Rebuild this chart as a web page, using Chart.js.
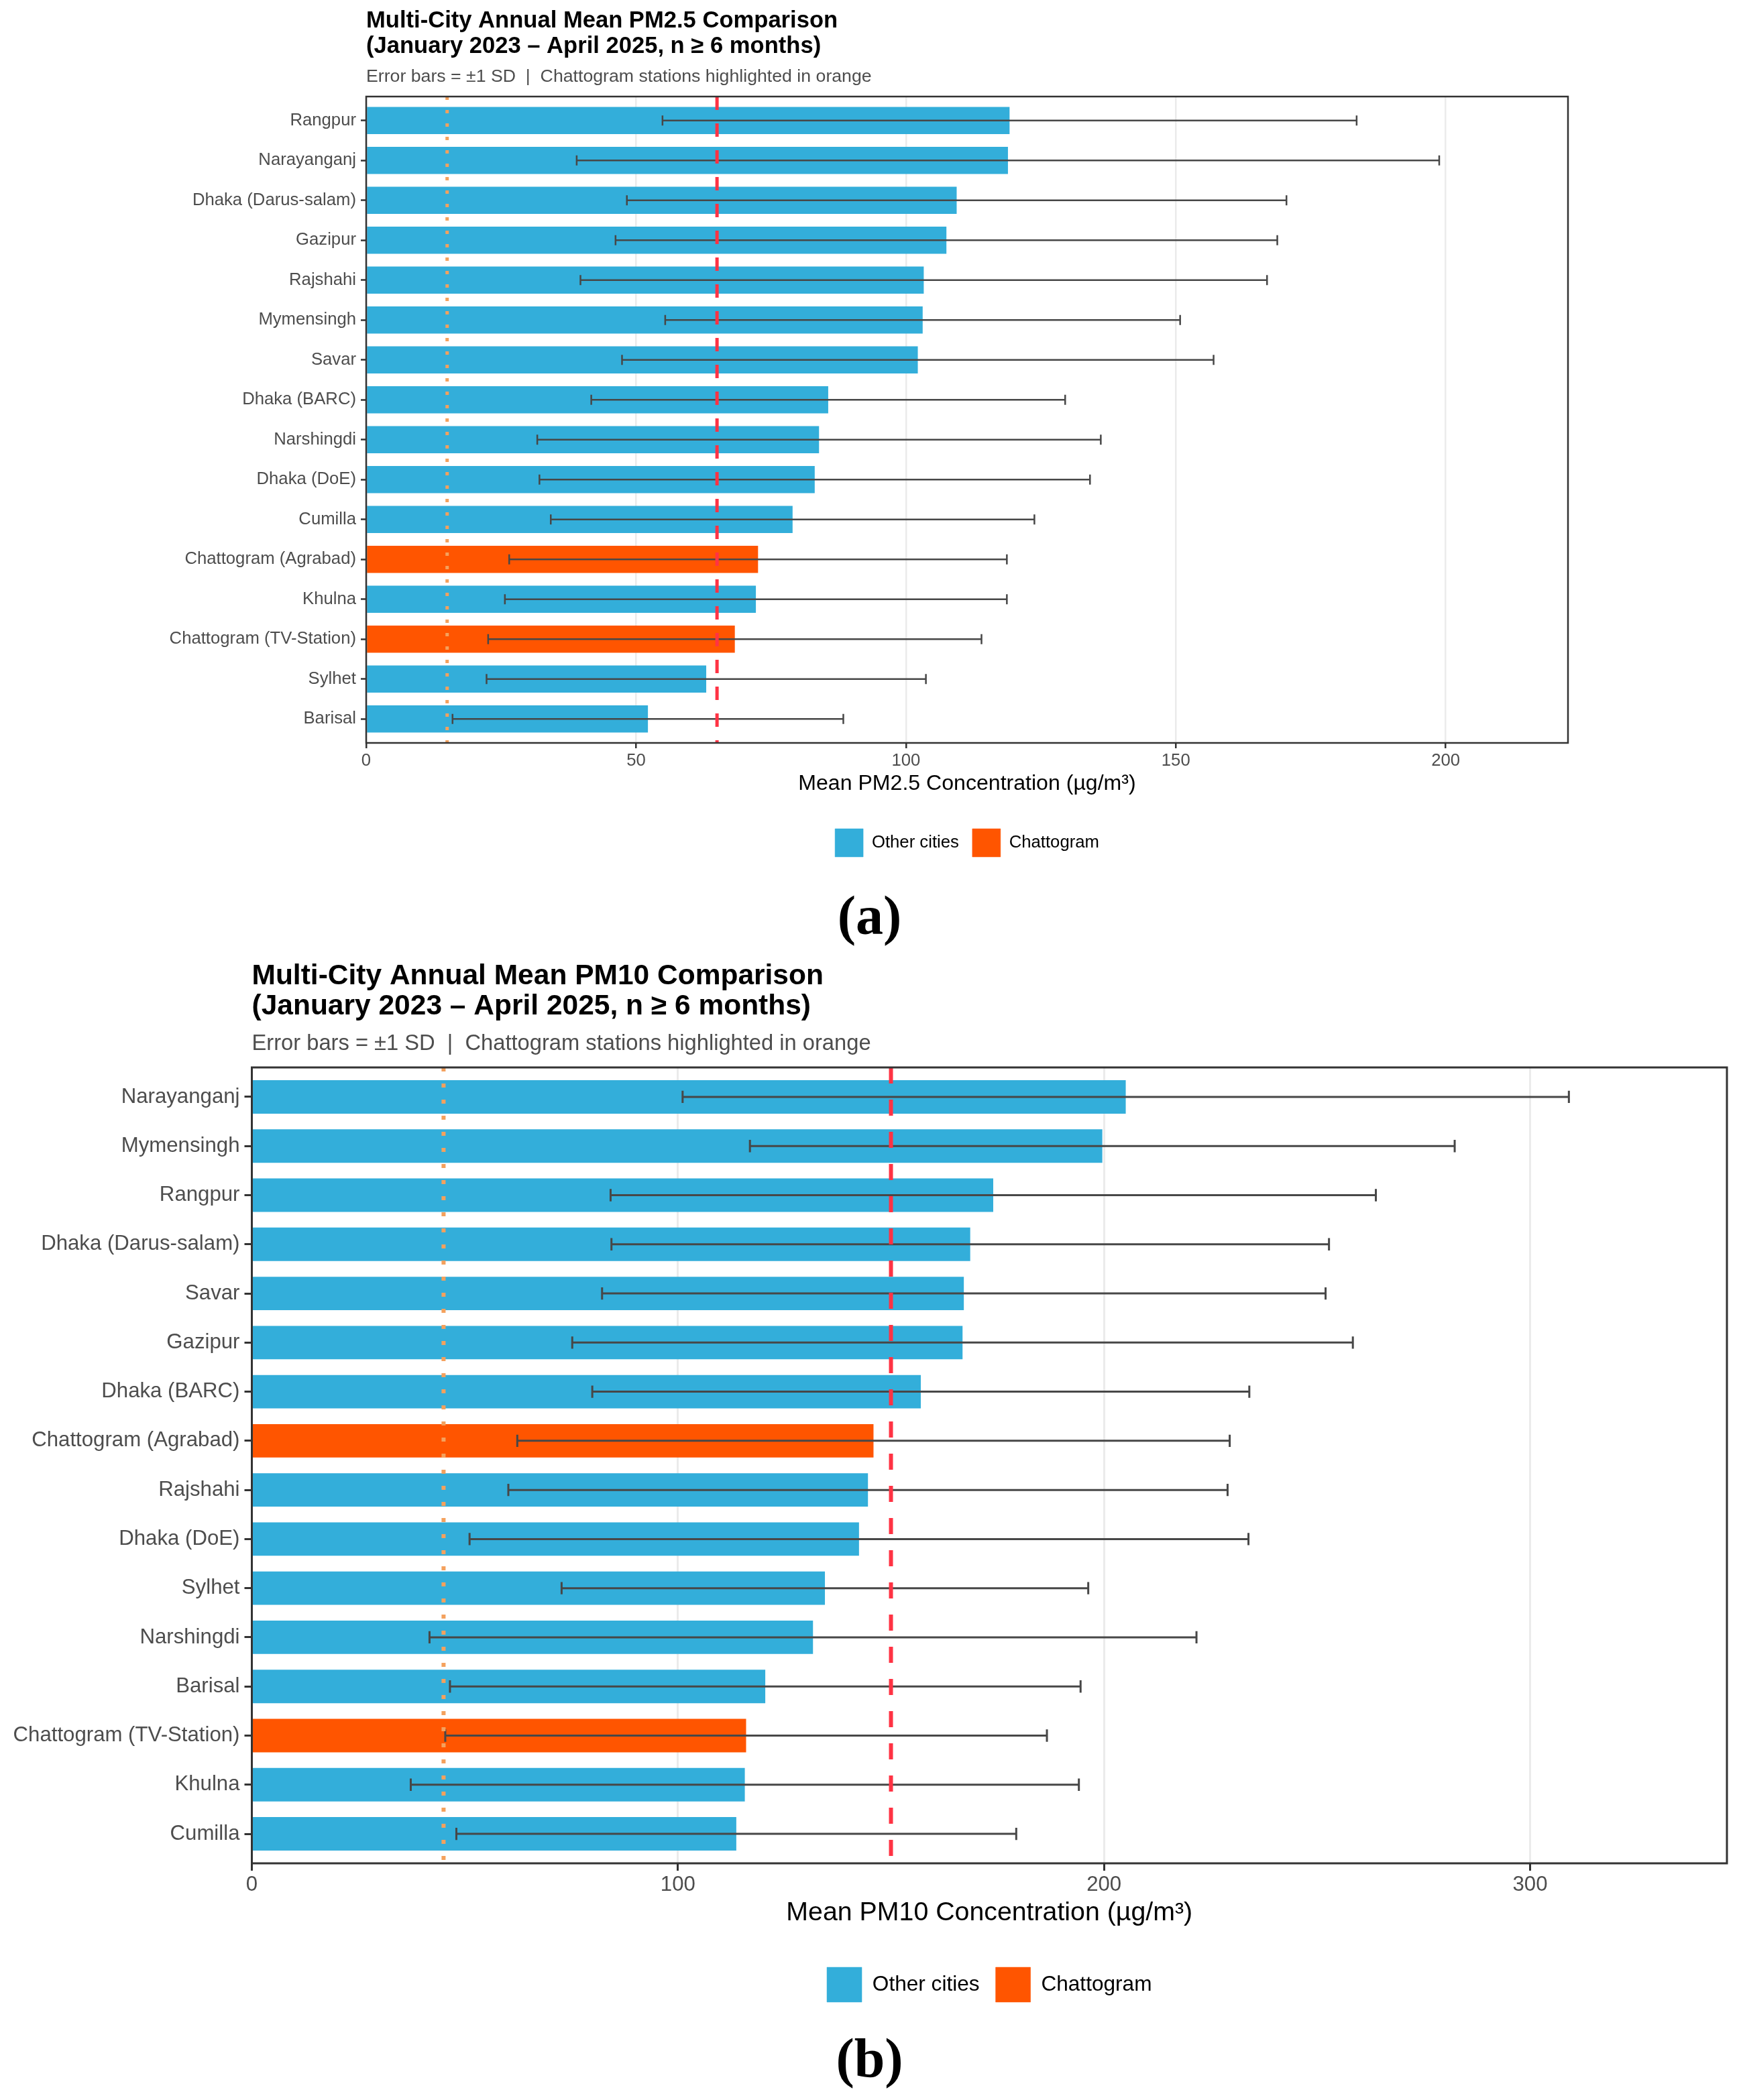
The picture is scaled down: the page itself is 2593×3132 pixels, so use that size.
<!DOCTYPE html>
<html>
<head>
<meta charset="utf-8">
<title>Multi-City Annual Mean PM Comparison</title>
<script src="https://cdn.jsdelivr.net/npm/chart.js@4.4.1/dist/chart.umd.min.js"></script>
<style>
  html, body { margin: 0; padding: 0; background: #fff; }
  .panel { position: absolute; left: 0; width: 2593px; }
  #wrapA { top: 0; height: 1430px; }
  #wrapB { top: 1430px; height: 1702px; }
</style>
</head>
<body>
<div id="wrapA" class="panel"><canvas id="chartA"></canvas></div>
<div id="wrapB" class="panel"><canvas id="chartB"></canvas></div>
<script>
// ---- data ----
const pm25Cities = ['Rangpur', 'Narayanganj', 'Dhaka (Darus-salam)', 'Gazipur', 'Rajshahi', 'Mymensingh',
  'Savar', 'Dhaka (BARC)', 'Narshingdi', 'Dhaka (DoE)', 'Cumilla', 'Chattogram (Agrabad)', 'Khulna',
  'Chattogram (TV-Station)', 'Sylhet', 'Barisal'];
const pm25Mean = [119.2, 118.9, 109.4, 107.5, 103.3, 103.1, 102.2, 85.6, 83.9, 83.1, 79.0, 72.6, 72.2, 68.3, 63.0, 52.2];
const pm25Sd = [64.3, 79.9, 61.1, 61.3, 63.6, 47.7, 54.8, 43.9, 52.2, 51.0, 44.8, 46.1, 46.5, 45.7, 40.7, 36.2];
const pm25RefLines = [15, 65];
const pm25Ticks = [0, 50, 100, 150, 200];

const pm10Cities = ['Narayanganj', 'Mymensingh', 'Rangpur', 'Dhaka (Darus-salam)', 'Savar', 'Gazipur',
  'Dhaka (BARC)', 'Chattogram (Agrabad)', 'Rajshahi', 'Dhaka (DoE)', 'Sylhet', 'Narshingdi', 'Barisal',
  'Chattogram (TV-Station)', 'Khulna', 'Cumilla'];
const pm10Mean = [205.1, 199.6, 174.0, 168.6, 167.1, 166.8, 157.0, 145.9, 144.6, 142.5, 134.5, 131.7, 120.5, 116.0, 115.7, 113.7];
const pm10Sd = [104.0, 82.7, 89.8, 84.2, 84.9, 91.6, 77.1, 83.6, 84.4, 91.4, 61.8, 90.0, 74.0, 70.6, 78.4, 65.7];
const pm10RefLines = [45, 150];
const pm10Ticks = [0, 100, 200, 300];

const legendLabels = ['Other cities', 'Chattogram'];
const titleLine2 = '(January 2023 \u2013 April 2025, n \u2265 6 months)';
const subtitle = 'Error bars = \u00b11 SD  |  Chattogram stations highlighted in orange';

const BLUE = '#33AEDA';
const ORANGE = '#FF5500';
Chart.defaults.font.family = "'Liberation Sans', Arial, sans-serif";

// overlay: error bars, guideline lines, panel border, titles
function makeOverlay(d, g) {
  return {
    id: 'overlay',
    afterDatasetsDraw(chart) {
      const {ctx, chartArea: a, scales: {x, y}} = chart;
      const meta = chart.getDatasetMeta(0);
      const cap = Math.abs(y.getPixelForValue(1.125) - y.getPixelForValue(1));
      ctx.save();
      ctx.strokeStyle = '#474747';
      ctx.lineWidth = g.errW;
      d.means.forEach((m, i) => {
        const yy = meta.data[i].y;
        const x1 = x.getPixelForValue(m - d.sds[i]);
        const x2 = x.getPixelForValue(m + d.sds[i]);
        ctx.beginPath();
        ctx.moveTo(x1, yy); ctx.lineTo(x2, yy);
        ctx.moveTo(x1, yy - cap); ctx.lineTo(x1, yy + cap);
        ctx.moveTo(x2, yy - cap); ctx.lineTo(x2, yy + cap);
        ctx.stroke();
      });

      // WHO guideline (dotted) and national standard (dashed)
      ctx.lineCap = 'butt';
      ctx.lineWidth = g.refW;
      d.refLines.forEach((v, k) => {
        const px = x.getPixelForValue(v);
        ctx.strokeStyle = k === 0 ? '#F4A15D' : '#FF3344';
        ctx.setLineDash(k === 0 ? [g.refW, g.refW * 3] : [g.refW * 4, g.refW * 4]);
        ctx.beginPath();
        ctx.moveTo(px, a.top);
        ctx.lineTo(px, a.bottom);
        ctx.stroke();
      });
      ctx.setLineDash([]);

      ctx.strokeStyle = '#333333';
      ctx.lineWidth = g.borderW;
      ctx.strokeRect(a.left, a.top, a.right - a.left, a.bottom - a.top);
      ctx.restore();
    },
    afterDraw(chart) {
      const {ctx, chartArea: a} = chart;
      ctx.save();
      ctx.textAlign = 'left';
      ctx.textBaseline = 'alphabetic';
      ctx.fillStyle = '#000';
      ctx.font = `bold ${g.titleSize}px 'Liberation Sans', Arial, sans-serif`;
      d.title.forEach((t, k) => ctx.fillText(t, a.left, g.titleBase[k]));
      ctx.fillStyle = '#4D4D4D';
      ctx.font = `${g.subSize}px 'Liberation Sans', Arial, sans-serif`;
      ctx.fillText(d.subtitle, a.left, g.subBase);
      ctx.fillStyle = '#000';
      ctx.textAlign = 'center';
      ctx.font = `bold ${g.labelSize}px 'Liberation Serif', 'Times New Roman', serif`;
      ctx.fillText(d.panel, chart.width / 2, g.labelBase);
      ctx.restore();
    }
  };
}

function buildChart(id, d, g) {
  const pos = d.cities.map((c, i) => i + 1);
  const xMax = Math.max(...d.means.map((m, i) => m + d.sds[i])) * 1.12;
  const ctx = document.getElementById(id).getContext('2d');
  return new Chart(ctx, {
    type: 'bar',
    data: {
      datasets: [{
        data: d.means.map((m, i) => ({x: m, y: pos[i]})),
        backgroundColor: d.cities.map(c => c.startsWith('Chattogram') ? ORANGE : BLUE),
        borderWidth: 0,
        categoryPercentage: 1,
        barPercentage: 0.68
      }]
    },
    options: {
      indexAxis: 'y',
      responsive: true,
      maintainAspectRatio: false,
      animation: false,
      events: [],
      layout: {padding: {top: g.top, left: 0, right: g.right, bottom: g.bottom}},
      scales: {
        x: {
          type: 'linear',
          min: 0,
          max: xMax,
          afterBuildTicks: s => { s.ticks = d.ticks.map(v => ({value: v})); },
          afterFit: s => { s.height = g.xAxisH; },
          grid: {color: '#EBEBEB', lineWidth: g.gridW, tickColor: '#333333', tickWidth: g.borderW, tickLength: g.tickLen},
          border: {display: false},
          ticks: {font: {size: g.tickSize}, color: '#4D4D4D', padding: 3, maxRotation: 0, autoSkip: false},
          title: {display: true, text: d.axisTitle, color: '#000', font: {size: g.axisTitleSize}, padding: {top: 0, bottom: g.axisTitlePad}}
        },
        y: {
          type: 'linear',
          reverse: true,
          offset: false,
          min: 0.4,
          max: d.cities.length + 0.6,
          afterBuildTicks: s => { s.ticks = pos.map(v => ({value: v})); },
          afterFit: s => { s.width = g.left; },
          grid: {offset: false, drawOnChartArea: false, drawTicks: true, tickLength: g.tickLen, tickColor: '#333333', tickWidth: g.borderW, color: '#333333'},
          border: {display: false},
          ticks: {
            font: {size: g.tickSize}, color: '#4D4D4D', padding: 7, autoSkip: false,
            callback: v => d.cities[v - 1]
          }
        }
      },
      plugins: {
        title: {display: false},
        tooltip: {enabled: false},
        legend: {
          position: 'bottom',
          fullSize: false,
          align: 'center',
          labels: {
            boxWidth: g.key, boxHeight: g.key, padding: g.legendPad,
            font: {size: g.legendSize}, color: '#000',
            generateLabels: () => legendLabels.map((t, k) => ({
              text: t, fillStyle: k === 0 ? BLUE : ORANGE, strokeStyle: k === 0 ? BLUE : ORANGE,
              lineWidth: 0.5, hidden: false, datasetIndex: 0
            }))
          }
        }
      }
    },
    plugins: [makeOverlay(d, g)]
  });
}

buildChart('chartA', {
  cities: pm25Cities, means: pm25Mean, sds: pm25Sd, refLines: pm25RefLines, ticks: pm25Ticks,
  axisTitle: 'Mean PM2.5 Concentration (\u00b5g/m\u00b3)',
  title: ['Multi-City Annual Mean PM2.5 Comparison', titleLine2],
  subtitle: subtitle, panel: '(a)'
}, {
  top: 144, left: 546, right: 255, bottom: 142, xAxisH: 108, axisTitlePad: 28, legendPad: 20, key: 42,
  tickLen: 8, tickSize: 25.7, axisTitleSize: 32.1, legendSize: 25.7,
  titleSize: 34.6, subSize: 26.7, labelSize: 82,
  titleBase: [41, 78.5], subBase: 121.5, labelBase: 1393,
  errW: 2.5, refW: 5, gridW: 2.5, borderW: 2.5
});

buildChart('chartB', {
  cities: pm10Cities, means: pm10Mean, sds: pm10Sd, refLines: pm10RefLines, ticks: pm10Ticks,
  axisTitle: 'Mean PM10 Concentration (\u00b5g/m\u00b3)',
  title: ['Multi-City Annual Mean PM10 Comparison', titleLine2],
  subtitle: subtitle, panel: '(b)'
}, {
  top: 162, left: 375.5, right: 18, bottom: 136, xAxisH: 131, axisTitlePad: 33, legendPad: 24, key: 52,
  tickLen: 11, tickSize: 31.2, axisTitleSize: 39.3, legendSize: 31.6,
  titleSize: 42.5, subSize: 32.7, labelSize: 82,
  titleBase: [38, 83], subBase: 136, labelBase: 1666.7,
  errW: 3, refW: 6, gridW: 3, borderW: 3
});
</script>
</body>
</html>
